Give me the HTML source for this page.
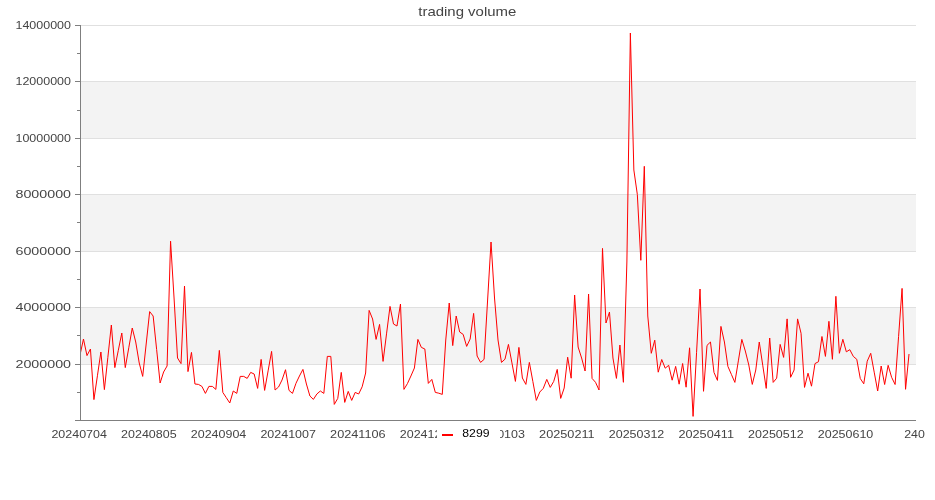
<!DOCTYPE html>
<html><head><meta charset="utf-8"><style>
html,body{margin:0;padding:0;background:#fff;width:935px;height:500px;overflow:hidden}
svg{display:block;will-change:transform}
text{font-family:"Liberation Sans",sans-serif}
.g{stroke:#e0e0e0;stroke-width:1}
.ax{stroke:#7f7f7f;stroke-width:1}
.yl,.xl{font-size:11px;fill:#444}
.t{font-size:13px;fill:#444}
</style></head><body>
<svg width="935" height="500" viewBox="0 0 935 500">
<rect x="0" y="0" width="935" height="500" fill="#fff"/>
<rect x="80" y="307.00" width="836" height="57.00" fill="#f3f3f3"/><rect x="80" y="194.00" width="836" height="57.00" fill="#f3f3f3"/><rect x="80" y="81.00" width="836" height="57.00" fill="#f3f3f3"/>
<line x1="80" y1="364.5" x2="916" y2="364.5" class="g"/><line x1="80" y1="307.5" x2="916" y2="307.5" class="g"/><line x1="80" y1="251.5" x2="916" y2="251.5" class="g"/><line x1="80" y1="194.5" x2="916" y2="194.5" class="g"/><line x1="80" y1="138.5" x2="916" y2="138.5" class="g"/><line x1="80" y1="81.5" x2="916" y2="81.5" class="g"/><line x1="80" y1="25.5" x2="916" y2="25.5" class="g"/>
<defs><clipPath id="c"><rect x="80" y="0" width="836" height="500"/></clipPath></defs>
<path d="M80.00,355.00 L83.48,339.00 L86.97,355.60 L90.45,349.00 L93.93,399.60 L97.42,375.80 L100.90,352.00 L104.38,389.60 L107.87,357.30 L111.35,325.00 L114.83,367.60 L118.32,350.30 L121.80,333.00 L125.28,367.60 L128.77,347.80 L132.25,328.00 L135.73,342.00 L139.22,363.00 L142.70,376.40 L146.18,344.00 L149.67,311.60 L153.15,316.00 L156.63,349.50 L160.12,383.00 L163.60,372.00 L167.08,366.00 L170.57,241.20 L174.05,298.00 L177.53,358.00 L181.02,363.60 L184.50,286.00 L187.98,371.60 L191.47,352.40 L194.95,384.00 L198.43,384.40 L201.92,386.40 L205.40,393.40 L208.88,386.40 L212.37,386.40 L215.85,389.40 L219.33,350.40 L222.82,392.40 L226.30,397.70 L229.78,403.00 L233.27,391.00 L236.75,393.40 L240.23,376.40 L243.72,376.40 L247.20,378.40 L250.68,372.40 L254.17,374.00 L257.65,388.40 L261.13,359.40 L264.62,390.40 L268.10,370.90 L271.58,351.40 L275.07,390.00 L278.55,387.00 L282.03,380.00 L285.52,369.70 L289.00,390.40 L292.48,393.40 L295.97,383.30 L299.45,376.00 L302.93,369.40 L306.42,384.00 L309.90,396.00 L313.38,399.40 L316.87,394.00 L320.35,391.00 L323.83,393.40 L327.32,356.40 L330.80,356.40 L334.28,404.40 L337.77,398.40 L341.25,372.40 L344.73,402.40 L348.22,391.40 L351.70,400.40 L355.18,392.40 L358.67,394.00 L362.15,386.80 L365.63,373.00 L369.12,310.40 L372.60,319.00 L376.08,339.40 L379.57,324.40 L383.05,361.40 L386.53,333.90 L390.02,306.40 L393.50,324.00 L396.98,326.00 L400.47,304.00 L403.95,389.40 L407.43,383.60 L410.92,376.00 L414.40,368.00 L417.88,339.40 L421.37,347.40 L424.85,349.00 L428.33,383.40 L431.82,379.40 L435.30,392.40 L438.78,393.20 L442.27,394.40 L445.75,340.00 L449.23,303.00 L452.72,345.60 L456.20,316.00 L459.68,332.00 L463.17,334.40 L466.65,346.40 L470.13,339.00 L473.62,313.40 L477.10,356.00 L480.58,362.40 L484.07,359.40 L487.55,301.00 L491.03,242.00 L494.52,298.00 L498.00,340.00 L501.48,362.40 L504.97,359.20 L508.45,344.40 L511.93,362.90 L515.42,381.40 L518.90,347.40 L522.38,378.00 L525.87,384.40 L529.35,362.40 L532.83,381.40 L536.32,400.40 L539.80,392.00 L543.28,388.40 L546.77,379.40 L550.25,387.40 L553.73,381.40 L557.22,369.40 L560.70,398.40 L564.18,388.00 L567.67,357.20 L571.15,378.20 L574.63,295.00 L578.12,347.00 L581.60,358.00 L585.08,371.00 L588.57,294.00 L592.05,378.40 L595.53,382.30 L599.02,390.00 L602.50,248.40 L605.98,323.00 L609.47,312.00 L612.95,358.00 L616.43,378.40 L619.92,345.00 L623.40,382.30 L626.88,262.00 L630.37,33.00 L633.85,170.00 L637.33,194.50 L640.82,260.30 L644.30,166.30 L647.78,316.00 L651.27,353.30 L654.75,340.20 L658.23,372.20 L661.72,359.50 L665.20,368.20 L668.68,365.30 L672.17,380.20 L675.65,366.40 L679.13,384.20 L682.62,363.50 L686.10,387.20 L689.58,347.80 L693.07,416.40 L696.55,352.70 L700.03,289.00 L703.52,391.30 L707.00,345.40 L710.48,342.00 L713.97,372.40 L717.45,380.40 L720.93,326.40 L724.42,342.00 L727.90,366.40 L731.38,374.40 L734.87,382.40 L738.35,360.90 L741.83,339.40 L745.32,351.00 L748.80,365.00 L752.28,384.40 L755.77,370.00 L759.25,342.00 L762.73,365.20 L766.22,388.40 L769.70,338.00 L773.18,382.40 L776.67,378.20 L780.15,344.40 L783.63,357.40 L787.12,318.90 L790.60,377.30 L794.08,370.00 L797.57,318.90 L801.05,333.30 L804.53,387.40 L808.02,373.20 L811.50,386.20 L814.98,363.60 L818.47,361.70 L821.95,336.50 L825.43,356.40 L828.92,321.30 L832.40,359.30 L835.88,296.30 L839.37,353.30 L842.85,339.30 L846.33,351.80 L849.82,349.70 L853.30,356.40 L856.78,359.30 L860.27,378.50 L863.75,383.80 L867.23,361.20 L870.72,353.30 L874.20,372.15 L877.68,391.00 L881.17,366.00 L884.65,384.50 L888.13,365.30 L891.62,377.30 L895.10,384.50 L898.58,336.45 L902.07,288.40 L905.55,389.30 L909.03,354.00" fill="none" stroke="#ff0000" stroke-width="1" stroke-linejoin="miter" stroke-miterlimit="10" clip-path="url(#c)"/>
<line x1="80.5" y1="25" x2="80.5" y2="420" class="ax"/>
<line x1="75" y1="420.5" x2="916" y2="420.5" class="ax"/>
<line x1="75" y1="420.5" x2="80" y2="420.5" class="ax"/><line x1="75" y1="364.5" x2="80" y2="364.5" class="ax"/><line x1="75" y1="307.5" x2="80" y2="307.5" class="ax"/><line x1="75" y1="251.5" x2="80" y2="251.5" class="ax"/><line x1="75" y1="194.5" x2="80" y2="194.5" class="ax"/><line x1="75" y1="138.5" x2="80" y2="138.5" class="ax"/><line x1="75" y1="81.5" x2="80" y2="81.5" class="ax"/><line x1="75" y1="25.5" x2="80" y2="25.5" class="ax"/><line x1="77" y1="392.5" x2="80" y2="392.5" class="ax"/><line x1="77" y1="335.5" x2="80" y2="335.5" class="ax"/><line x1="77" y1="279.5" x2="80" y2="279.5" class="ax"/><line x1="77" y1="222.5" x2="80" y2="222.5" class="ax"/><line x1="77" y1="166.5" x2="80" y2="166.5" class="ax"/><line x1="77" y1="110.5" x2="80" y2="110.5" class="ax"/><line x1="77" y1="53.5" x2="80" y2="53.5" class="ax"/>
<g opacity="0.999"><text x="71" y="367.6" class="yl" text-anchor="end" textLength="55.5" lengthAdjust="spacingAndGlyphs">2000000</text><text x="71" y="311.1" class="yl" text-anchor="end" textLength="55.5" lengthAdjust="spacingAndGlyphs">4000000</text><text x="71" y="254.7" class="yl" text-anchor="end" textLength="55.5" lengthAdjust="spacingAndGlyphs">6000000</text><text x="71" y="198.3" class="yl" text-anchor="end" textLength="55.5" lengthAdjust="spacingAndGlyphs">8000000</text><text x="71" y="141.9" class="yl" text-anchor="end" textLength="55.5" lengthAdjust="spacingAndGlyphs">10000000</text><text x="71" y="85.4" class="yl" text-anchor="end" textLength="55.5" lengthAdjust="spacingAndGlyphs">12000000</text><text x="71" y="29.0" class="yl" text-anchor="end" textLength="55.5" lengthAdjust="spacingAndGlyphs">14000000</text>
<text x="79.20" y="438" class="xl" text-anchor="middle" textLength="55.5" lengthAdjust="spacingAndGlyphs">20240704</text><text x="148.87" y="438" class="xl" text-anchor="middle" textLength="55.5" lengthAdjust="spacingAndGlyphs">20240805</text><text x="218.53" y="438" class="xl" text-anchor="middle" textLength="55.5" lengthAdjust="spacingAndGlyphs">20240904</text><text x="288.20" y="438" class="xl" text-anchor="middle" textLength="55.5" lengthAdjust="spacingAndGlyphs">20241007</text><text x="357.87" y="438" class="xl" text-anchor="middle" textLength="55.5" lengthAdjust="spacingAndGlyphs">20241106</text><text x="427.53" y="438" class="xl" text-anchor="middle" textLength="55.5" lengthAdjust="spacingAndGlyphs">20241206</text><text x="497.20" y="438" class="xl" text-anchor="middle" textLength="55.5" lengthAdjust="spacingAndGlyphs">20250103</text><text x="566.87" y="438" class="xl" text-anchor="middle" textLength="55.5" lengthAdjust="spacingAndGlyphs">20250211</text><text x="636.53" y="438" class="xl" text-anchor="middle" textLength="55.5" lengthAdjust="spacingAndGlyphs">20250312</text><text x="706.20" y="438" class="xl" text-anchor="middle" textLength="55.5" lengthAdjust="spacingAndGlyphs">20250411</text><text x="775.87" y="438" class="xl" text-anchor="middle" textLength="55.5" lengthAdjust="spacingAndGlyphs">20250512</text><text x="845.53" y="438" class="xl" text-anchor="middle" textLength="55.5" lengthAdjust="spacingAndGlyphs">20250610</text><text x="914.50" y="438" class="xl" text-anchor="middle" textLength="20.6" lengthAdjust="spacingAndGlyphs">240</text>
<text x="467.3" y="16" class="t" text-anchor="middle" textLength="98" lengthAdjust="spacingAndGlyphs">trading volume</text></g>
<rect x="437" y="424" width="63" height="18" fill="#fff"/>
<rect x="442" y="434" width="11" height="2" fill="#ff0000"/>
<text x="462.3" y="437" font-size="11" fill="#000" textLength="27.2" lengthAdjust="spacingAndGlyphs">8299</text>
</svg>
</body></html>
